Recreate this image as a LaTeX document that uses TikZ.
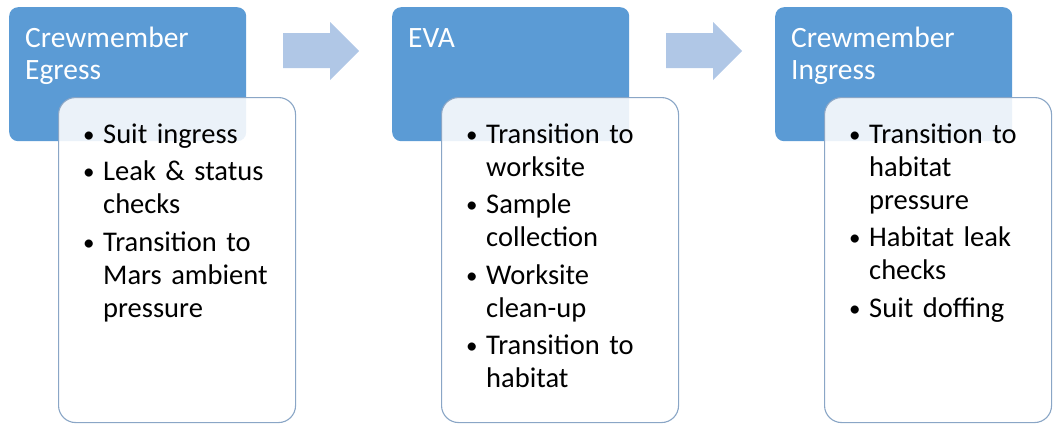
\documentclass[tikz,border=0pt]{standalone}
\usepackage{fontspec}
\setmainfont{Carlito}
\definecolor{stageblue}{HTML}{5B9BD5}
\definecolor{listedge}{HTML}{8AA6C6}
\definecolor{flowarrow}{HTML}{B0C7E6}
\newcommand\bul{\makebox[19pt][l]{\hspace*{-1pt}\raisebox{0.8pt}{\fontsize{23}{23}\selectfont\textbullet}}}
\newcommand\ind{\hspace*{19pt}}
\tikzset{
  stagebox/.style={fill=stageblue, draw=none, rounded corners=9pt,
    minimum width=237pt, minimum height=134pt, anchor=north west, inner sep=0pt},
  listbox/.style={fill=white, fill opacity=0.88, draw=listedge, line width=1.1pt,
    rounded corners=17pt, anchor=north west, inner sep=0pt},
  stagetitle/.style={text=white, anchor=base west, inner sep=0pt, align=left,
    text width=210pt, font=\fontsize{29.5}{32}\selectfont},
  itemlist/.style={text=black, anchor=base west, inner sep=0pt, align=left,
    text width=215pt, font=\fontsize{28.5}{33}\selectfont},
  flowshape/.style={fill=flowarrow, draw=none}
}
\begin{document}
\begin{tikzpicture}[x=1pt, y=-1pt]
\useasboundingbox (0,0) rectangle (1053,426);

% stage headers
\node[stagebox] (b1) at (9,7) {};
\node[stagebox] (b2) at (392,7) {};
\node[stagebox] (b3) at (775,7) {};

% flow arrows between stages
\fill[flowshape] (283,33) -- (330,33) -- (330,22) -- (359,51) -- (330,80) -- (330,68) -- (283,68) -- cycle;
\fill[flowshape] (666,33) -- (713,33) -- (713,22) -- (742,51) -- (713,80) -- (713,68) -- (666,68) -- cycle;

% activity panels
\node[listbox, minimum width=237pt, minimum height=325pt] (w1) at (58,97) {};
\node[listbox, minimum width=237pt, minimum height=325pt] (w2) at (441,97) {};
\node[listbox, minimum width=227pt, minimum height=325pt] (w3) at (824,97) {};

% stage titles
\node[stagetitle] (t1) at (25,47) {Crewmember\\Egress};
\node[stagetitle] (t2) at (408,47) {EVA};
\node[stagetitle] (t3) at (791,47) {Crewmember\\Ingress};

% activity lists
\node[itemlist] (l1) at (84,143) {%
  \bul Suit ingress\\[4.5pt]
  \bul Leak \& status\\
  \ind checks\\[4.5pt]
  \bul Transition to\\
  \ind Mars ambient\\
  \ind pressure};
\node[itemlist] (l2) at (467,143) {%
  \bul Transition to\\
  \ind worksite\\[4.5pt]
  \bul Sample\\
  \ind collection\\[4.5pt]
  \bul Worksite\\
  \ind clean-up\\[4.5pt]
  \bul Transition to\\
  \ind habitat};
\node[itemlist] (l3) at (850,143) {%
  \bul Transition to\\
  \ind habitat\\
  \ind pressure\\[4.5pt]
  \bul Habitat leak\\
  \ind checks\\[4.5pt]
  \bul Suit doffing};
\end{tikzpicture}
\end{document}
